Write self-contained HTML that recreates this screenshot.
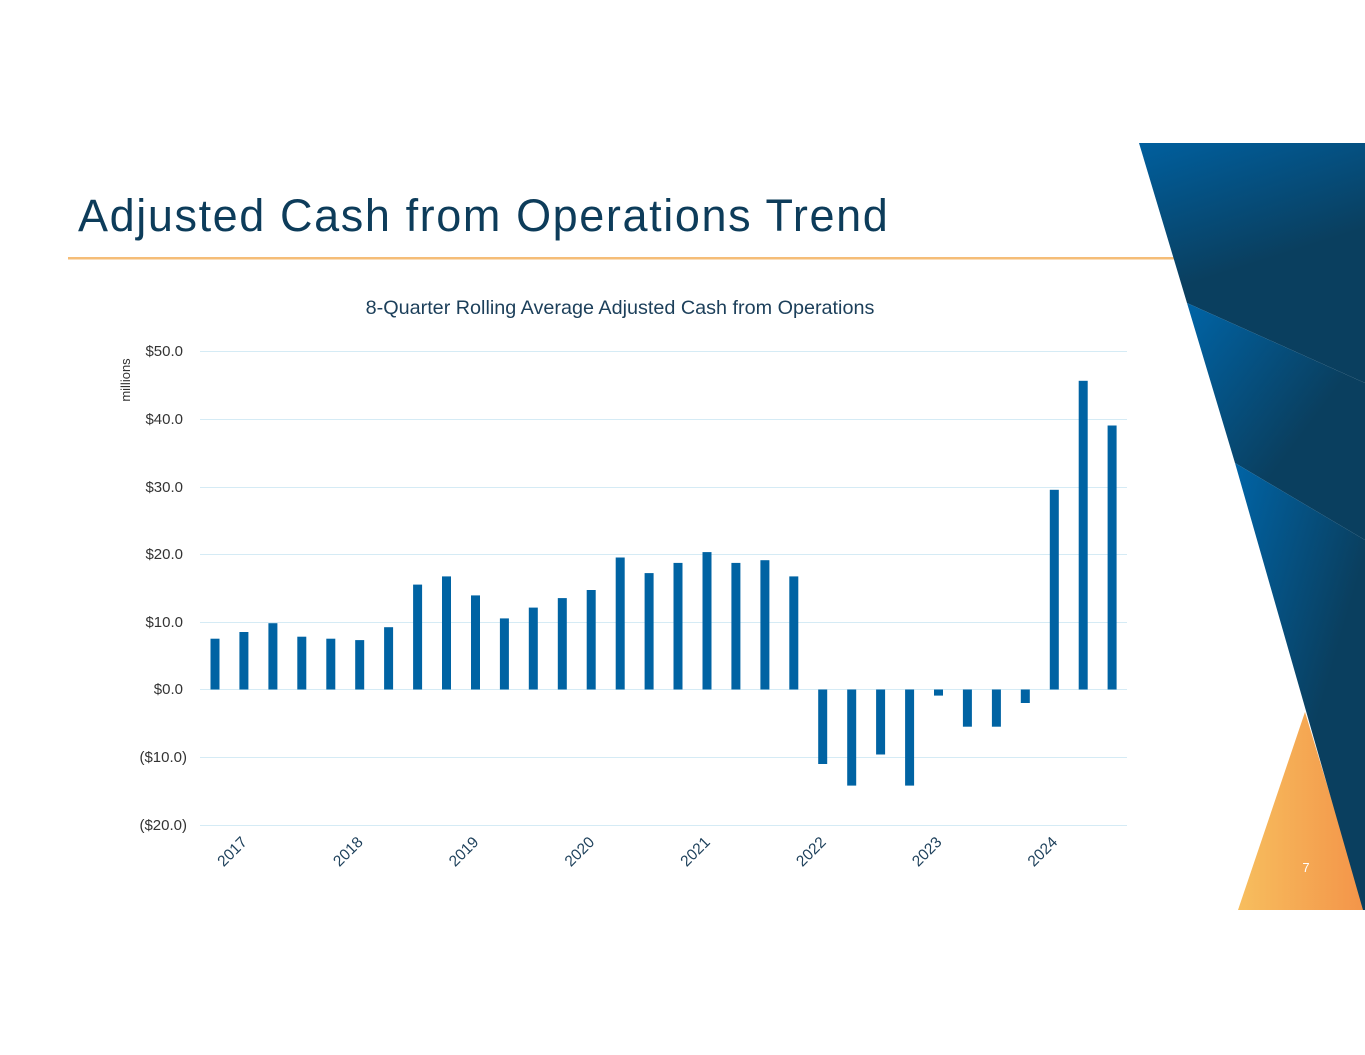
<!DOCTYPE html>
<html><head><style>
body{margin:0;width:1365px;height:1055px;background:#fff;overflow:hidden;font-family:"Liberation Sans",Arial,sans-serif;}
</style></head><body>
<svg width="1365" height="1055" xmlns="http://www.w3.org/2000/svg" style="position:absolute;left:0;top:0">
<defs>
<linearGradient id="g1" x1="0" y1="0" x2="0.3" y2="1"><stop offset="0" stop-color="#005f9e"/><stop offset="0.6" stop-color="#0a3f5f"/></linearGradient>
<linearGradient id="g2" x1="0" y1="0" x2="1" y2="1"><stop offset="0" stop-color="#0064a6"/><stop offset="0.6" stop-color="#0a3f5f"/></linearGradient>
<linearGradient id="g4" x1="0" y1="0" x2="1" y2="0"><stop offset="0" stop-color="#f7be5e"/><stop offset="1" stop-color="#f39449"/></linearGradient>
</defs>
<text x="78" y="231" font-size="45" fill="#0d3c5a" letter-spacing="1.6">Adjusted Cash from Operations Trend</text>
<rect x="68" y="257" width="1110" height="2.5" fill="#f5bd77"/>
<polygon points="1305,712 1238,910 1365,910" fill="url(#g4)"/>
<polygon points="1139,143 1365,143 1365,383 1187,303" fill="url(#g1)"/>
<polygon points="1187,303 1365,383 1365,540 1235,463" fill="url(#g2)"/>
<polygon points="1235,463 1365,540 1365,910 1363,910" fill="url(#g2)"/>
<text x="1306" y="872" font-size="13" fill="#fff" text-anchor="middle">7</text>
<text x="620" y="314" font-size="19.8" fill="#1c3f5a" text-anchor="middle">8-Quarter Rolling Average Adjusted Cash from Operations</text>
<text transform="translate(130,380) rotate(-90)" font-size="13" fill="#333" text-anchor="middle">millions</text>
<g stroke="#d5ebf5" stroke-width="1">
<line x1="200" x2="1127" y1="351.5" y2="351.5"/><line x1="200" x2="1127" y1="419.5" y2="419.5"/>
<line x1="200" x2="1127" y1="487.5" y2="487.5"/><line x1="200" x2="1127" y1="554.5" y2="554.5"/>
<line x1="200" x2="1127" y1="622.5" y2="622.5"/><line x1="200" x2="1127" y1="689.5" y2="689.5"/>
<line x1="200" x2="1127" y1="757.5" y2="757.5"/><line x1="200" x2="1127" y1="825.5" y2="825.5"/>
</g>
<g font-size="15" fill="#333" text-anchor="end">
<text x="183" y="356">$50.0</text><text x="183" y="424">$40.0</text><text x="183" y="492">$30.0</text>
<text x="183" y="559">$20.0</text><text x="183" y="627">$10.0</text><text x="183" y="694">$0.0</text>
<text x="187" y="762">($10.0)</text><text x="187" y="830">($20.0)</text>
</g>
<g id="bars" fill="#0063a3"></g>
<g font-size="15.5" fill="#1c3f5a" text-anchor="end" id="yrs"></g>
</svg>
<script>
var v=[7.5,8.5,9.8,7.8,7.5,7.3,9.2,15.5,16.7,13.9,10.5,12.1,13.5,14.7,19.5,17.2,18.7,20.3,18.7,19.1,16.7,-11,-14.2,-9.6,-14.2,-0.9,-5.5,-5.5,-2,29.5,45.6,39];
var s="",z=689.5,k=6.77;
v.forEach(function(d,i){var cx=215+i*28.94;var y=d>=0?z-d*k:z;var h=Math.abs(d)*k;s+='<rect x="'+(cx-4.5).toFixed(1)+'" y="'+y.toFixed(1)+'" width="9" height="'+h.toFixed(1)+'"/>';});
document.getElementById("bars").innerHTML=s;
var t="";for(var j=0;j<8;j++){var x=248+j*115.76;t+='<text transform="translate('+x.toFixed(1)+',843) rotate(-45)">'+(2017+j)+'</text>';}
document.getElementById("yrs").innerHTML=t;
</script>
</body></html>
